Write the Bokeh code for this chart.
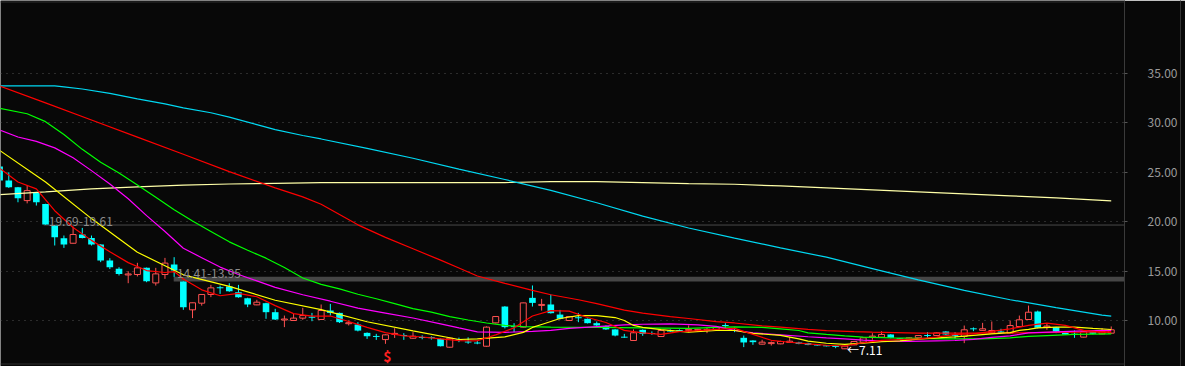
from bokeh.plotting import figure
from bokeh.models import Range1d, LinearAxis, FixedTicker, PrintfTickFormatter, Span, Grid
from bokeh.core.properties import value
from bokeh.embed import file_html
from bokeh.resources import INLINE

# ---------------- data ----------------
OPEN = [25.56, 24.14, 23.47, 22.12, 22.96, 21.78, 19.60, 18.32, 17.81, 18.69,
        18.35, 17.68, 16.07, 15.22, 14.63, 14.65, 15.32, 13.80, 14.65, 15.66,
        13.94, 11.08, 11.75, 12.63, 13.35, 13.43, 12.86, 12.26, 11.58, 11.75,
        10.84, 10.08, 10.00, 10.24, 10.36, 10.10, 11.01, 10.77, 9.70, 9.59,
        8.75, 8.40, 8.07, 8.62, 8.50, 8.21, 8.30, 8.28, 8.14, 7.30,
        8.07, 7.84, 7.74, 7.40, 9.76, 11.41, 9.40, 9.33, 12.29, 11.55,
        11.62, 10.60, 10.00, 10.30, 10.17, 9.73, 9.43, 9.10, 8.33, 7.98,
        9.06, 8.70, 8.38, 8.95, 9.00, 9.03, 9.03, 9.03, 9.06, 9.52,
        9.02, 8.25, 7.98, 7.61, 7.70, 7.64, 7.78, 7.78, 7.71, 7.58,
        7.47, 7.40, 7.14, 7.54, 7.81, 8.35, 8.32, 8.59, 8.18, 8.05,
        8.25, 8.50, 8.48, 8.89, 8.52, 8.38, 9.18, 9.00, 8.75, 8.89,
        8.72, 9.39, 10.10, 10.91, 9.37, 9.33, 8.82, 8.62, 8.32, 8.89,
        8.65, 8.72]
HIGH = [25.75, 24.98, 23.50, 23.70, 23.00, 21.80, 19.61, 18.59, 19.50, 19.36,
        18.59, 17.70, 16.30, 15.39, 14.98, 15.83, 15.35, 15.32, 16.33, 16.40,
        13.95, 11.80, 12.63, 13.60, 13.53, 13.77, 13.60, 12.30, 12.09, 11.80,
        11.18, 10.50, 10.67, 11.28, 10.77, 11.62, 11.68, 10.80, 10.00, 9.83,
        8.80, 8.65, 8.60, 9.22, 8.72, 8.82, 8.50, 8.40, 8.20, 8.30,
        8.27, 8.30, 7.95, 9.40, 10.45, 11.45, 9.73, 11.80, 13.54, 12.19,
        12.63, 11.07, 10.45, 10.77, 10.20, 9.90, 9.50, 9.13, 8.65, 9.10,
        9.10, 8.90, 9.05, 9.10, 9.10, 9.50, 9.15, 9.26, 9.35, 9.73,
        9.30, 8.48, 8.00, 8.05, 7.88, 7.95, 8.32, 7.85, 7.75, 7.60,
        7.50, 7.47, 7.45, 7.90, 8.30, 8.72, 8.92, 8.62, 8.20, 8.30,
        8.50, 8.82, 8.80, 8.92, 8.82, 9.49, 9.30, 9.76, 9.90, 9.16,
        10.00, 10.50, 11.51, 11.00, 9.66, 9.35, 8.85, 9.00, 8.95, 8.92,
        9.23, 9.40]
LOW = [24.00, 23.40, 21.95, 21.84, 21.62, 19.69, 17.58, 17.34, 17.78, 18.30,
       17.58, 15.90, 15.20, 14.55, 13.77, 14.45, 13.87, 13.53, 14.21, 14.41,
       11.08, 10.24, 11.50, 12.36, 12.69, 12.90, 12.30, 11.35, 11.55, 10.17,
       10.05, 9.33, 9.98, 10.07, 9.93, 10.05, 10.50, 9.75, 9.50, 8.90,
       8.14, 8.04, 7.64, 8.24, 8.04, 8.15, 8.10, 8.07, 7.38, 7.25,
       7.81, 7.64, 7.60, 7.35, 9.70, 9.20, 8.82, 9.30, 11.41, 11.00,
       10.70, 10.10, 9.95, 9.83, 9.70, 9.45, 9.05, 8.40, 8.25, 7.95,
       8.45, 8.55, 8.35, 8.85, 8.90, 8.82, 8.95, 8.72, 9.00, 9.20,
       8.82, 7.31, 7.54, 7.58, 7.47, 7.60, 7.75, 7.60, 7.50, 7.45,
       7.38, 7.20, 7.11, 7.50, 7.78, 8.05, 8.30, 8.20, 8.05, 8.00,
       8.20, 8.25, 8.45, 8.55, 8.14, 7.71, 8.92, 8.98, 8.70, 8.70,
       8.70, 9.35, 10.05, 9.20, 9.06, 8.72, 8.55, 8.25, 8.30, 8.60,
       8.62, 8.70]
CLOSE = [24.14, 23.47, 22.36, 23.13, 21.95, 19.70, 18.42, 17.68, 18.69, 18.35,
         17.68, 16.07, 15.39, 14.71, 14.68, 15.32, 13.97, 14.71, 15.80, 15.05,
         11.35, 11.79, 12.63, 13.30, 13.28, 12.96, 12.36, 11.62, 11.85, 10.84,
         10.10, 10.12, 10.24, 10.50, 10.30, 11.01, 10.77, 9.83, 9.75, 8.98,
         8.41, 8.38, 8.55, 8.68, 8.46, 8.41, 8.27, 8.25, 7.40, 8.21,
         8.04, 7.81, 7.71, 9.33, 10.40, 9.33, 9.36, 11.78, 11.78, 11.60,
         10.74, 10.17, 10.40, 10.26, 9.73, 9.50, 9.10, 8.48, 8.30, 8.76,
         8.65, 8.67, 8.99, 8.92, 8.97, 9.08, 9.08, 9.08, 9.33, 9.47,
         8.97, 7.78, 7.81, 7.81, 7.73, 7.88, 7.91, 7.64, 7.54, 7.47,
         7.41, 7.35, 7.41, 7.88, 8.25, 8.40, 8.59, 8.25, 8.12, 8.25,
         8.48, 8.46, 8.75, 8.59, 8.48, 9.06, 9.14, 9.16, 8.99, 8.75,
         9.49, 10.07, 10.84, 9.26, 9.41, 8.89, 8.59, 8.59, 8.89, 8.65,
         8.89, 9.06]

# moving averages: (bar index, value) pairs
MA5_X = [0, 2, 4, 6, 8, 10, 12, 14, 16, 18, 19, 20, 22, 24, 26, 28, 30, 32, 34, 36,
         38, 40, 42, 44, 46, 48, 50, 52, 54, 56, 58, 60, 62, 64, 66, 68, 70, 72, 74, 76,
         78, 80, 82, 84, 86, 88, 90, 92, 94, 96, 98, 100, 102, 104, 106, 108, 110, 112,
         114, 116, 118, 120, 121]
MA5_Y = [25.4, 24.0, 23.3, 21.1, 19.4, 18.1, 16.95, 15.85, 15.05, 14.85, 14.95, 14.2,
         13.1, 12.5, 12.75, 12.4, 11.5, 10.7, 10.45, 10.45, 9.9, 9.3, 8.78, 8.45, 8.33,
         8.15, 7.97, 7.95, 8.55, 9.26, 10.45, 11.0, 10.95, 10.3, 9.8, 9.0, 8.75, 8.6,
         8.88, 8.97, 9.1, 9.2, 8.6, 8.0, 7.8, 7.64, 7.5, 7.42, 7.75, 8.0, 8.08, 8.15,
         8.32, 8.6, 8.65, 8.9, 9.15, 9.5, 9.73, 9.5, 9.0, 8.82, 8.82]
MA10_X = [0, 5, 10, 15, 20, 25, 30, 35, 40, 45, 50, 52, 55, 57, 58, 59, 61, 63, 65, 67,
          68, 69, 70, 72, 75, 78, 80, 82, 85, 87, 88, 90, 92, 94, 96, 98, 100, 102, 104,
          106, 108, 110, 111, 112, 113, 115, 117, 119, 121]
MA10_Y = [27.2, 24.0, 20.3, 16.9, 14.62, 13.45, 12.05, 11.1, 9.87, 8.95, 8.08, 8.15,
          8.35, 8.8, 9.3, 9.6, 10.2, 10.5, 10.5, 10.3, 10.0, 9.5, 9.3, 9.08, 8.82, 8.99,
          8.99, 8.7, 8.5, 8.15, 7.91, 7.7, 7.58, 7.71, 7.85, 7.95, 8.12, 8.25, 8.35, 8.5,
          8.65, 8.78, 9.0, 9.1, 9.25, 9.33, 9.33, 9.2, 9.09]
MA20_X = [0, 2, 4, 6, 8, 10, 12, 14, 16, 18, 20, 22, 24, 26, 28, 30, 33, 36, 39, 42,
          45, 48, 50, 52, 55, 58, 60, 62, 65, 68, 70, 73, 76, 78, 80, 82, 85, 88, 90, 92,
          94, 96, 99, 102, 104, 106, 108, 110, 111, 112, 115, 118, 121]
MA20_Y = [29.26, 28.55, 28.1, 27.45, 26.45, 25.15, 23.8, 22.3, 20.6, 19.0, 17.3, 16.35,
          15.4, 14.65, 14.0, 13.35, 12.6, 11.95, 11.25, 10.75, 10.25, 9.66, 9.25, 8.85,
          8.8, 8.9, 9.0, 9.2, 9.38, 9.55, 9.62, 9.66, 9.55, 9.4, 9.0, 8.75, 8.55, 8.36,
          8.25, 8.15, 8.02, 7.92, 7.88, 7.95, 7.98, 8.1, 8.3, 8.45, 8.59, 8.75, 8.85,
          8.95, 9.0]
MA30_X = [0, 3, 5, 7, 9, 11, 13, 15, 17, 19, 21, 23, 25, 27, 29, 31, 33, 35, 37, 39,
          41, 43, 45, 47, 49, 51, 53, 55, 57, 60, 65, 70, 75, 78, 80, 83, 85, 87, 88, 90,
          92, 94, 97, 100, 103, 107, 110, 112, 114, 117, 121]
MA30_Y = [31.45, 30.9, 30.1, 28.8, 27.3, 26.0, 24.9, 23.7, 22.45, 21.2, 20.05, 19.0,
          17.95, 17.1, 16.3, 15.35, 14.3, 13.65, 13.2, 12.65, 12.2, 11.7, 11.2, 10.85,
          10.4, 10.05, 9.75, 9.5, 9.38, 9.33, 9.3, 9.26, 9.2, 9.3, 9.35, 9.3, 9.16, 8.99,
          8.75, 8.59, 8.45, 8.32, 8.25, 8.2, 8.15, 8.15, 8.25, 8.4, 8.48, 8.59, 8.65]
MA60_X = [0, 5, 10, 15, 20, 25, 30, 33, 35, 39, 42, 45, 48, 50, 52, 55, 58, 60, 63, 65,
          68, 70, 73, 75, 78, 80, 83, 85, 88, 90, 93, 95, 100, 105, 110, 115, 121]
MA60_Y = [33.71, 32.0, 30.27, 28.54, 26.8, 25.05, 23.4, 22.5, 21.75, 19.67, 18.4, 17.25,
          16.1, 15.3, 14.5, 13.75, 13.05, 12.6, 12.1, 11.7, 11.05, 10.75, 10.4, 10.2,
          9.88, 9.75, 9.45, 9.33, 9.1, 8.97, 8.87, 8.82, 8.72, 8.72, 8.75, 8.8, 8.85]
MA120_X = [0, 6, 7, 9, 12, 15, 18, 20, 23, 25, 28, 30, 33, 35, 40, 45, 50, 55, 60, 65,
           70, 75, 80, 85, 90, 95, 100, 105, 110, 115, 120, 121]
MA120_Y = [33.71, 33.71, 33.62, 33.4, 32.95, 32.4, 31.9, 31.5, 31.0, 30.55, 29.8, 29.3,
           28.7, 28.35, 27.4, 26.4, 25.3, 24.25, 23.15, 21.9, 20.55, 19.35, 18.33, 17.34,
           16.4, 15.25, 14.1, 13.05, 12.1, 11.3, 10.55, 10.44]
MA250_X = [0, 5, 10, 15, 20, 25, 30, 35, 40, 45, 50, 55, 60, 65, 70, 75, 80, 85, 90, 95,
           100, 105, 110, 115, 120, 121]
MA250_Y = [22.73, 23.0, 23.3, 23.5, 23.68, 23.8, 23.87, 23.94, 23.94, 23.94, 23.94, 23.94,
           24.04, 24.04, 23.94, 23.84, 23.77, 23.6, 23.4, 23.2, 23.0, 22.8, 22.6, 22.4,
           22.15, 22.1]

# price gaps marked on the chart: (start bar, upper, lower)
GAP1 = (5, 19.69, 19.61)
GAP2 = (19, 14.41, 13.95)
SIGNAL_BAR = 42
Y_TICKS = [10, 15, 20, 25, 30, 35]

# ---------------- styling / geometry ----------------
BG = "#080808"
UP = "#FF5252"
DOWN = "#00FFFF"
FONT = "Noto Sans CJK SC"
W, H = 1185, 366
AXIS_W = 61
PX_BAR = 9.187
PX_UNIT = 9.893
x0 = 0.9 / PX_BAR
x1 = x0 + (W - AXIS_W) / PX_BAR
y_end = 10 + 320 / PX_UNIT
y_start = y_end - H / PX_UNIT

p = figure(width=W, height=H, x_range=Range1d(x0, x1), y_range=Range1d(y_start, y_end),
           output_backend="svg", toolbar_location=None,
           x_axis_location=None, y_axis_location=None,
           min_border_left=0, min_border_top=0, min_border_bottom=0, min_border_right=AXIS_W,
           background_fill_color=BG, border_fill_color=BG, outline_line_color=None)
p.grid.visible = False

ax = LinearAxis(ticker=FixedTicker(ticks=Y_TICKS), formatter=PrintfTickFormatter(format="%.2f"),
                axis_line_color="#3a3a3a", major_tick_line_color="#555555",
                major_tick_out=3, major_tick_in=0, minor_tick_line_color=None,
                major_label_text_color="#9a9a9a", major_label_text_font=FONT,
                major_label_text_font_size="12px", major_label_standoff=20)
p.add_layout(ax, "right")
# outer edge line of the price-axis panel
edge = LinearAxis(ticker=FixedTicker(ticks=[]), axis_line_color="#333333",
                  major_tick_line_color=None, minor_tick_line_color=None,
                  major_label_text_font_size="0px", major_label_standoff=0,
                  major_tick_out=0, major_tick_in=0)
p.add_layout(edge, "right")
p.add_layout(Grid(dimension=1, ticker=FixedTicker(ticks=Y_TICKS), grid_line_color="#505050",
                  grid_line_dash="1 5", grid_line_width=1))

# frame lines
p.add_layout(Span(location=y_end - 1.5 / PX_UNIT, dimension="width", line_color="#2e2e2e", line_width=1))
p.add_layout(Span(location=y_start + 2.5 / PX_UNIT, dimension="width", line_color="#2e2e2e", line_width=1))

# gap markers
s1, hi1, lo1 = GAP1
p.segment(x0=[s1 - 0.2], y0=[(hi1 + lo1) / 2], x1=[x1], y1=[(hi1 + lo1) / 2],
          line_color="#4a4a4a", line_width=1)
s2, hi2, lo2 = GAP2
p.quad(left=[s2 - 0.05], right=[x1], bottom=[lo2], top=[hi2], fill_color="#464646",
       line_color=None)

# candles
idx = list(range(len(OPEN)))
is_up = [c >= o for o, c in zip(OPEN, CLOSE)]
colors = [UP if u else DOWN for u in is_up]
p.segment(x0=idx, y0=LOW, x1=idx, y1=HIGH, line_color=colors, line_width=1)

def body(i):
    top, bot = max(OPEN[i], CLOSE[i]), min(OPEN[i], CLOSE[i])
    if top - bot < 0.1:
        mid = (top + bot) / 2
        top, bot = mid + 0.05, mid - 0.05
    return top, bot

up_i = [i for i in idx if is_up[i]]
dn_i = [i for i in idx if not is_up[i]]
p.vbar(x=dn_i, width=0.72, top=[body(i)[0] for i in dn_i], bottom=[body(i)[1] for i in dn_i],
       fill_color=DOWN, line_color=None)
p.vbar(x=up_i, width=0.65, top=[body(i)[0] for i in up_i], bottom=[body(i)[1] for i in up_i],
       fill_color=BG, line_color=UP, line_width=1)

# moving averages
for xs, ys, col in [(MA250_X, MA250_Y, "#FFFFA8"), (MA120_X, MA120_Y, "#00D8F2"),
                    (MA60_X, MA60_Y, "#FF0000"), (MA30_X, MA30_Y, "#00FF00"),
                    (MA20_X, MA20_Y, "#FF00FF"), (MA10_X, MA10_Y, "#FFFF00"),
                    (MA5_X, MA5_Y, "#FF0000")]:
    p.line(xs, ys, line_color=col, line_width=1.2)

# labels
p.text(x=[s1 + 0.35], y=[hi1 + 0.3], text=[f"{hi1:.2f}-{lo1:.2f}"], text_font=value(FONT),
       text_font_size="12px", text_color="#8c8c8c", text_baseline="alphabetic", text_align="left")
p.text(x=[s2 + 0.3], y=[hi2 + 0.3], text=[f"{hi2:.2f}-{lo2:.2f}"], text_font=value(FONT),
       text_font_size="12px", text_color="#8c8c8c", text_baseline="alphabetic", text_align="left")
lo_i = min(idx, key=lambda i: LOW[i])
p.text(x=[lo_i + 0.25], y=[LOW[lo_i]], text=["\u2190" + f"{LOW[lo_i]:.2f}"], text_font=value(FONT),
       text_font_size="12px", text_color="#FFFFFF", text_baseline="middle", text_align="left")
p.text(x=[SIGNAL_BAR + 0.2], y=[y_start + 11 / PX_UNIT], text=["$"], text_font=value(FONT),
       text_font_size="14px", text_font_style="bold", text_color="#FF2020",
       text_baseline="middle", text_align="center")

open("out.html", "w").write(file_html(p, INLINE))
